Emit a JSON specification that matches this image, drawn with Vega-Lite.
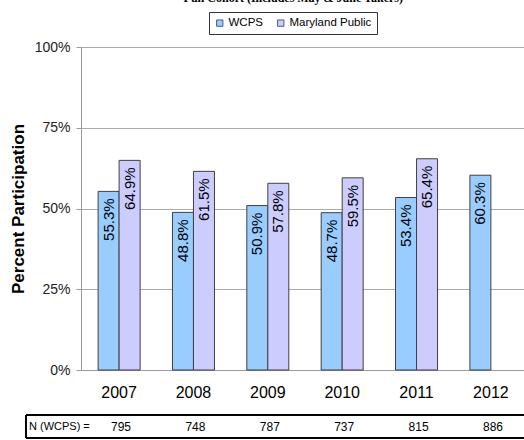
{
  "$schema": "https://vega.github.io/schema/vega-lite/v6.json",
  "padding": {"left": 9, "top": -9, "right": 0, "bottom": 0},
  "title": {"text": "Full Cohort (Includes May & June Takers)", "font": "Liberation Serif", "fontSize": 12, "fontWeight": "bold", "color": "#000", "anchor": "middle", "offset": 7, "dx": 16},
  "config": {"font": "Liberation Sans", "view": {"stroke": null}},
  "spacing": 14,
  "vconcat": [
    {
      "width": 448,
      "height": 323,
      "data": {"values": [
        {"year": "2007", "series": "WCPS", "value": 0.553},
        {"year": "2007", "series": "Maryland Public", "value": 0.649},
        {"year": "2008", "series": "WCPS", "value": 0.488},
        {"year": "2008", "series": "Maryland Public", "value": 0.615},
        {"year": "2009", "series": "WCPS", "value": 0.509},
        {"year": "2009", "series": "Maryland Public", "value": 0.578},
        {"year": "2010", "series": "WCPS", "value": 0.487},
        {"year": "2010", "series": "Maryland Public", "value": 0.595},
        {"year": "2011", "series": "WCPS", "value": 0.534},
        {"year": "2011", "series": "Maryland Public", "value": 0.654},
        {"year": "2012", "series": "WCPS", "value": 0.603}
      ]},
      "encoding": {
        "x": {"field": "year", "type": "nominal",
          "scale": {"paddingInner": 0.435, "paddingOuter": 0.23},
          "axis": {"title": null, "labelAngle": 0, "labelFontSize": 16, "labelColor": "#000", "ticks": false, "labelPadding": 14, "domainColor": "#999", "grid": false}},
        "xOffset": {"field": "series", "type": "nominal", "sort": ["WCPS", "Maryland Public"]},
        "y": {"field": "value", "type": "quantitative", "scale": {"domain": [0, 1]},
          "axis": {"title": "Percent Participation", "format": ".0%", "values": [0, 0.25, 0.5, 0.75, 1],
            "titleFontSize": 17, "titleFontWeight": "bold", "titleColor": "#000",
            "labelFontSize": 14, "labelColor": "#222", "tickColor": "#999", "tickSize": 5, "labelPadding": 6,
            "gridColor": "#aaa", "domainColor": "#999", "minExtent": 48, "maxExtent": 48, "titlePadding": 6}}
      },
      "layer": [
        {
          "mark": {"type": "bar", "stroke": "#404040", "strokeWidth": 1},
          "encoding": {
            "color": {"field": "series", "type": "nominal",
              "scale": {"domain": ["WCPS", "Maryland Public"], "range": ["#99CCFF", "#CCCCFF"]},
              "legend": {"title": null, "orient": "none", "legendX": 128, "legendY": -35, "direction": "horizontal",
                "strokeColor": "#333", "padding": 5, "labelFontSize": 11.5, "labelColor": "#000",
                "symbolType": "square", "symbolSize": 40, "symbolStrokeWidth": 1, "symbolStrokeColor": "#4a5a8a",
                "columnPadding": 12, "labelOffset": 3}}
          }
        },
        {
          "mark": {"type": "text", "angle": 270, "align": "right", "baseline": "middle", "dx": -7, "fontSize": 15, "color": "#000"},
          "encoding": {"text": {"field": "value", "type": "quantitative", "format": ".1%"}}
        }
      ]
    },
    {
      "width": 444,
      "height": 23,
      "data": {"values": [
        {"year": 2007, "n": 795},
        {"year": 2008, "n": 748},
        {"year": 2009, "n": 787},
        {"year": 2010, "n": 737},
        {"year": 2011, "n": 815},
        {"year": 2012, "n": 886}
      ]},
      "layer": [
        {
          "mark": {"type": "rect", "fill": null, "stroke": "#000", "strokeWidth": 1},
          "encoding": {
            "x": {"datum": 2005.723, "type": "quantitative", "scale": {"domain": [2006.4624, 2012.4301], "nice": false, "zero": false}, "axis": null},
            "x2": {"datum": 2012.7},
            "y": {"datum": 0, "type": "quantitative", "scale": {"domain": [0, 1], "nice": false}, "axis": null},
            "y2": {"datum": 1}
          }
        },
        {
          "mark": {"type": "text", "fontSize": 12, "color": "#000", "baseline": "middle"},
          "encoding": {
            "x": {"field": "year", "type": "quantitative"},
            "y": {"datum": 0.5, "type": "quantitative"},
            "text": {"field": "n", "type": "quantitative"}
          }
        },
        {
          "data": {"values": [{"label": "N (WCPS) ="}]},
          "mark": {"type": "text", "align": "left", "dx": 3, "fontSize": 11, "color": "#000", "baseline": "middle"},
          "encoding": {
            "x": {"datum": 2005.723, "type": "quantitative"},
            "y": {"datum": 0.5, "type": "quantitative"},
            "text": {"field": "label", "type": "nominal"}
          }
        }
      ]
    }
  ]
}
